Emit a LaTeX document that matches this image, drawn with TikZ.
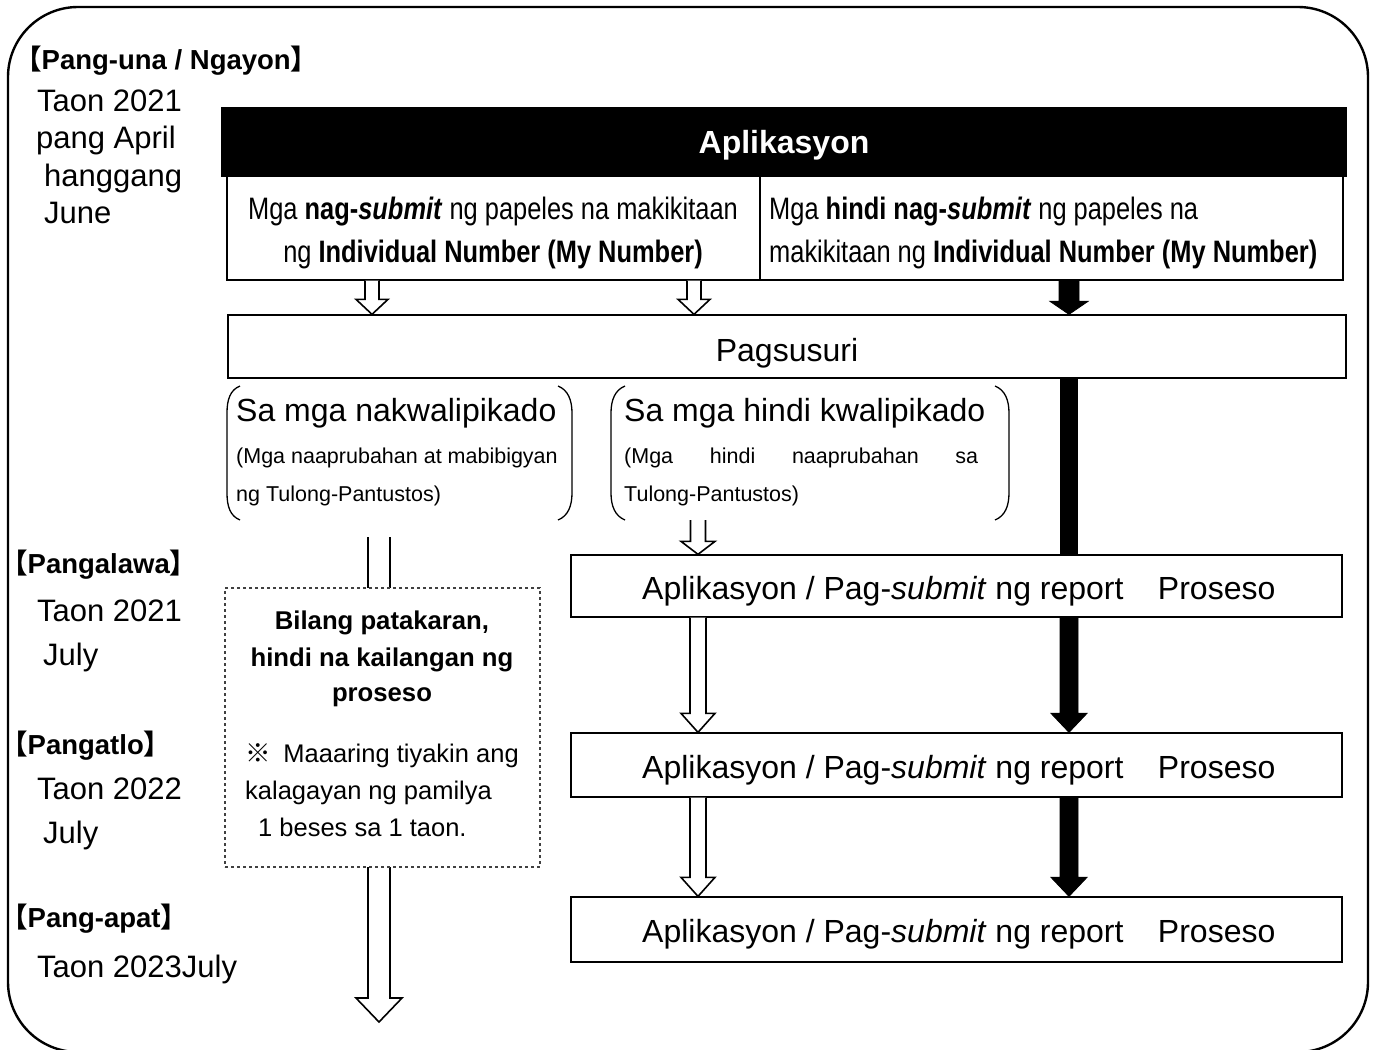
\documentclass[tikz,border=0pt]{standalone}
\usepackage{fontspec}
\setmainfont{Liberation Sans}
\newfontfamily\narrowfont[FakeStretch=0.82]{Liberation Sans}
\newfontfamily\cjkfont{Noto Sans CJK JP}
\usetikzlibrary{calc}
\newcommand\lbr{{\cjkfont 【}}
\newcommand\rbr{{\cjkfont 】}}
\newcommand\fsz[1]{\fontsize{#1}{1.2\dimexpr#1pt\relax}\selectfont}
% hollow arrow: start, end, shaft half width, head half width, head length
\newcommand\hollowarrow[5]{%
  \draw[harrow] let \p1=(#1), \p2=(#2) in
   (\x1-#3,\y1) -- (\x1-#3,\y2+#5) -- (\x1-#4,\y2+#5) -- (\x1,\y2)
   -- (\x1+#4,\y2+#5) -- (\x1+#3,\y2+#5) -- (\x1+#3,\y1);}
\newcommand\solidarrow[5]{%
  \draw[sarrow] let \p1=(#1), \p2=(#2) in
   (\x1-#3,\y1) -- (\x1-#3,\y2+#5) -- (\x1-#4,\y2+#5) -- (\x1,\y2)
   -- (\x1+#4,\y2+#5) -- (\x1+#3,\y2+#5) -- (\x1+#3,\y1) -- cycle;}
\tikzset{
  harrow/.style={draw=black, fill=white, line width=1.6pt, miter limit=10},
  sarrow/.style={draw=black, fill=black, line width=0.8pt},
  box/.style={draw=black, fill=white, line width=1.3pt, inner sep=0pt, minimum width=#1},
  ghost/.style={inner sep=0pt, minimum width=#1},
  txt/.style={inner sep=0pt, anchor=base west},
  ctxt/.style={inner sep=0pt, anchor=base},
  lbl/.style={txt, font=\fsz{31}},
  hlbl/.style={txt, font=\fsz{27.5}\bfseries},
  nar/.style={font=\narrowfont\fsz{31}},
  mid/.style={font=\fsz{32}},
  brk/.style={line width=1.3pt},
}
\begin{document}
\begin{tikzpicture}[x=1pt,y=-1pt]
\useasboundingbox (0,0) rectangle (1377,1050);
\fill[white] (0,0) rectangle (1377,1050);
% outer frame
\draw[line width=2.4pt, rounded corners=70pt] (8,7) rectangle (1368,1052);

% left labels
\node[hlbl] (h1) at (14,69) {\lbr Pang-una / Ngayon\rbr};
\node[lbl] (t1a) at (37,111) {Taon 2021};
\node[lbl] (t1b) at (36,148) {pang April};
\node[lbl] (t1c) at (44,186) {hanggang};
\node[lbl] (t1d) at (44,223) {June};
\node[hlbl] (h2) at (0,573) {\lbr Pangalawa\rbr};
\node[lbl] (t2a) at (37,621) {Taon 2021};
\node[lbl] (t2b) at (43,665) {July};
\node[hlbl] (h3) at (0,754) {\lbr Pangatlo\rbr};
\node[lbl] (t3a) at (37,799) {Taon 2022};
\node[lbl] (t3b) at (43,843) {July};
\node[hlbl] (h4) at (0,927) {\lbr Pang-apat\rbr};
\node[lbl] (t4a) at (37,977) {Taon 2023July};

% header
\node[box=1124pt, fill=black, minimum height=68pt] (hdr) at (784,142) {};
\node[ctxt, text=white, font=\fsz{32}\bfseries] (hdrt) at (784,153) {Aplikasyon};
\node[box=533pt, minimum height=104pt] (lb) at (493.5,228) {};
\node[box=583pt, minimum height=104pt] (rb) at (1051.5,228) {};
\node[ctxt, nar] (lb1) at (493,219) {Mga \textbf{nag-\textit{submit}} ng papeles na makikitaan};
\node[ctxt, nar] (lb2) at (493,262) {ng \textbf{Individual Number (My Number)}};
\node[txt, nar] (rb1) at (769,219) {Mga \textbf{hindi nag-\textit{submit}} ng papeles na};
\node[txt, nar] (rb2) at (769,262) {makikitaan ng \textbf{Individual Number (My Number)}};

% pagsusuri
\node[box=1118pt, minimum height=63pt] (pag) at (787,346.5) {};
\node[ctxt, font=\fsz{32}] (pagt) at (787,361) {Pagsusuri};

% x positions of connectors
\coordinate (xa) at (372,0);
\coordinate (xb) at (694,0);
\coordinate (xc) at (698,0);
\coordinate (xk) at (1069,0);

\hollowarrow{lb.south -| xa}{pag.north -| xa}{7pt}{16pt}{15pt}
\hollowarrow{lb.south -| xb}{pag.north -| xb}{7pt}{16pt}{15pt}
\solidarrow{rb.south -| xk}{pag.north -| xk}{10pt}{19pt}{13pt}

% bracket groups
\node[ghost=347pt, minimum height=134pt] (lq) at (399.5,453) {};
\node[ghost=398pt, minimum height=134pt] (rq) at (811,453) {};
\draw[brk] (240,386) .. controls (230,390) and (227,400) .. (227,413) -- (227,493) .. controls (227,506) and (230,516) .. (240,520);
\draw[brk] (558,386) .. controls (568,390) and (572,400) .. (572,413) -- (572,493) .. controls (572,506) and (568,516) .. (558,520);
\draw[brk] (625,386) .. controls (615,390) and (611,400) .. (611,413) -- (611,493) .. controls (611,506) and (615,516) .. (625,520);
\draw[brk] (995,386) .. controls (1005,390) and (1009,400) .. (1009,413) -- (1009,493) .. controls (1009,506) and (1005,516) .. (995,520);
\node[txt, font=\fsz{32}] (lq1) at (236,421) {Sa mga nakwalipikado};
\node[txt, font=\fsz{21.5}] (lq2) at (236,463) {(Mga naaprubahan at mabibigyan};
\node[txt, font=\fsz{21.5}] (lq3) at (236,501) {ng Tulong-Pantustos)};
\node[txt, font=\fsz{32}] (rq1) at (624,421) {Sa mga hindi kwalipikado};
\node[txt, font=\fsz{21.5}] (rq2) at (624,463) {\makebox[354pt][s]{(Mga hindi naaprubahan sa}};
\node[txt, font=\fsz{21.5}] (rq3) at (624,501) {Tulong-Pantustos)};

% process boxes
\node[box=771pt, minimum height=62pt] (b1) at (956.5,586) {};
\node[box=771pt, minimum height=64pt] (b2) at (956.5,765) {};
\node[box=771pt, minimum height=65pt] (b3) at (956.5,929.5) {};
\node[txt, mid] (b1t) at (642,599) {Aplikasyon / Pag-\textit{submit} ng report\hspace{0.8em} Proseso};
\node[txt, mid] (b2t) at (642,778) {Aplikasyon / Pag-\textit{submit} ng report\hspace{0.8em} Proseso};
\node[txt, mid] (b3t) at (642,942) {Aplikasyon / Pag-\textit{submit} ng report\hspace{0.8em} Proseso};

\hollowarrow{rq.south -| xc}{b1.north -| xc}{7.5pt}{17pt}{13pt}
\draw[line width=18pt] (pag.south -| xk) -- (b1.north -| xk);
\hollowarrow{b1.south -| xc}{b2.north -| xc}{8pt}{17pt}{19pt}
\hollowarrow{b2.south -| xc}{b3.north -| xc}{8pt}{17pt}{19pt}
\solidarrow{b1.south -| xk}{b2.north -| xk}{9pt}{18pt}{19pt}
\solidarrow{b2.south -| xk}{b3.north -| xk}{9pt}{18pt}{19pt}

% long arrow on the left, behind the note
\coordinate (ls) at (379,537);
\coordinate (le) at (379,1022);
\hollowarrow{ls}{le}{11pt}{23pt}{24pt}

% note box
\node[draw=black!75, dashed, fill=white, line width=1.2pt, inner sep=0pt, minimum width=315pt, minimum height=279pt] (note) at (382.5,727.5) {};
\node[ctxt, font=\fsz{25.7}\bfseries] (n1) at (382,629) {Bilang patakaran,};
\node[ctxt, font=\fsz{25.7}\bfseries] (n2) at (382,666) {hindi na kailangan ng};
\node[ctxt, font=\fsz{25.7}\bfseries] (n3) at (382,701) {proseso};
\node[txt, font=\fsz{25.5}] (n4) at (245,762) {{\cjkfont ※}\hspace{0.5em}Maaaring tiyakin ang};
\node[txt, font=\fsz{25.5}] (n5) at (245,799) {kalagayan ng pamilya};
\node[txt, font=\fsz{25.5}] (n6) at (258,836) {1 beses sa 1 taon.};
\end{tikzpicture}
\end{document}
